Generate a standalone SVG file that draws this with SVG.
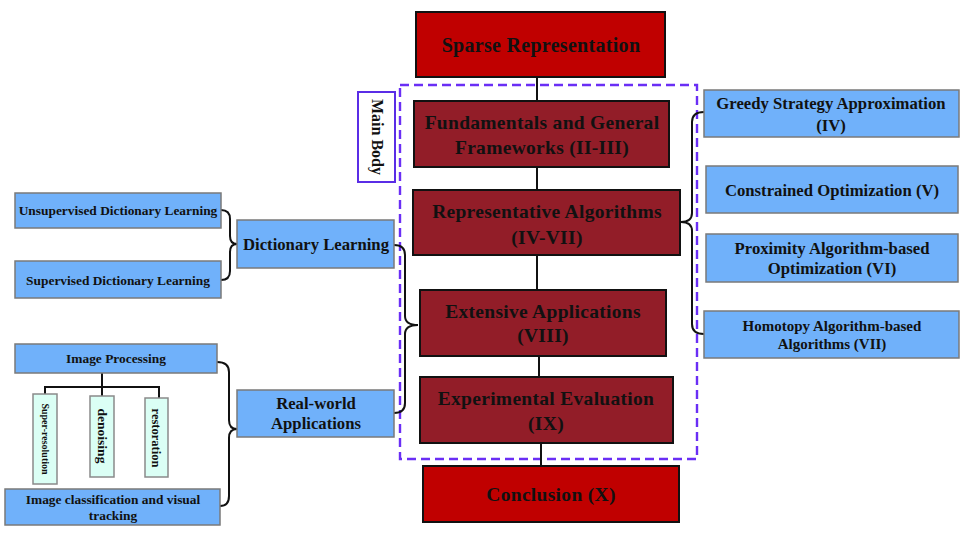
<svg xmlns="http://www.w3.org/2000/svg" width="968" height="536" viewBox="0 0 968 536">
<style>
text{font-family:"Liberation Serif","Times New Roman",serif;font-weight:bold;fill:#111;text-anchor:middle;dominant-baseline:central}
.red{fill:#C00000;stroke:#111;stroke-width:2}
.dark{fill:#921D28;stroke:#111;stroke-width:2}
.blue{fill:#70B1FA;stroke:#7A7A7A;stroke-width:1.5}
.cyan{fill:#DBFFF5;stroke:#8A8A8A;stroke-width:1.5}
.big{font-size:19.5px;letter-spacing:0.3px}
.mid{font-size:16.7px}
.sm{font-size:13.4px}
.ln{fill:none;stroke:#111;stroke-width:2}
</style>
<rect x="400" y="85" width="297" height="374" fill="none" stroke="#6A2EF5" stroke-width="2.4" stroke-dasharray="9,5"/>
<g id="connectors">
<path class="ln" d="M537,77V101M537,167V190M537,255V290M539,356V377M541,443V466"/>
<path class="ln" d="M704,112Q692,112 692,122L692,213Q692,222 681,222Q692,222 692,231L692,324Q692,334 704,334"/>
<path class="ln" d="M394,245Q405,245 405,255L405,316Q405,325 418,325Q405,325 405,334L405,403Q405,413 394,413"/>
<path class="ln" d="M221,210Q230,210 230,219L230,236Q230,244 237,244Q230,244 230,252L230,271Q230,280 221,280"/>
<path class="ln" d="M217,362Q229,362 229,372L229,420Q229,429 237,429Q229,429 229,438L229,496Q229,506 220,506"/>
<path class="ln" d="M102,373V387M45,394V387H159V398M102,387V396"/>
</g>
<g id="sparse"><rect class="red" x="416" y="12" width="249" height="65"/><text class="big" x="541" y="45" style="font-size:20px">Sparse Representation</text></g>
<g id="mainbody"><rect x="358" y="92" width="37" height="90" fill="#fff" stroke="#5A2DE6" stroke-width="2"/><text transform="translate(377,137) rotate(90)" style="font-size:16px">Main Body</text></g>
<g id="fundamentals"><rect class="dark" x="414" y="101" width="255" height="66"/><text class="big" x="542" y="122">Fundamentals and General</text><text class="big" x="542" y="147">Frameworks (II-III)</text></g>
<g id="representative"><rect class="dark" x="413" y="190" width="267" height="65"/><text class="big" x="547" y="211">Representative Algorithms</text><text class="big" x="547" y="237">(IV-VII)</text></g>
<g id="extensive"><rect class="dark" x="420" y="290" width="246" height="66"/><text class="big" x="543" y="311">Extensive Applications</text><text class="big" x="543" y="335">(VIII)</text></g>
<g id="experimental"><rect class="dark" x="420" y="377" width="253" height="66"/><text class="big" x="546" y="398">Experimental Evaluation</text><text class="big" x="546" y="423">(IX)</text></g>
<g id="conclusion"><rect class="red" x="423" y="466" width="256" height="56"/><text class="big" x="551" y="494">Conclusion (X)</text></g>
<g id="greedy"><rect class="blue" x="704" y="90" width="255" height="47"/><text class="mid" x="831" y="103">Greedy Strategy Approximation</text><text class="mid" x="831" y="125">(IV)</text></g>
<g id="constrained"><rect class="blue" x="706" y="166" width="252" height="47"/><text class="mid" x="832" y="190">Constrained Optimization (V)</text></g>
<g id="proximity"><rect class="blue" x="706" y="234" width="252" height="48"/><text class="mid" x="832" y="248">Proximity Algorithm-based</text><text class="mid" x="832" y="268">Optimization (VI)</text></g>
<g id="homotopy"><rect class="blue" x="704" y="311" width="255" height="47"/><text x="832" y="326" style="font-size:15px">Homotopy Algorithm-based</text><text x="832" y="344" style="font-size:15px">Algorithms (VII)</text></g>
<g id="unsupervised"><rect class="blue" x="15" y="193" width="206" height="35"/><text class="sm" x="118" y="210">Unsupervised Dictionary Learning</text></g>
<g id="supervised"><rect class="blue" x="15" y="261" width="206" height="37"/><text class="sm" x="118" y="280">Supervised Dictionary Learning</text></g>
<g id="dictionary"><rect class="blue" x="237" y="220" width="157" height="48"/><text class="mid" x="316" y="244">Dictionary Learning</text></g>
<g id="imageprocessing"><rect class="blue" x="15" y="344" width="202" height="29"/><text class="sm" x="116" y="358">Image Processing</text></g>
<g id="superres"><rect class="cyan" x="33" y="394" width="24" height="90"/><text transform="translate(45,439) rotate(90)" style="font-size:10px">Super-resolution</text></g>
<g id="denoising"><rect class="cyan" x="90" y="396" width="24" height="81"/><text transform="translate(102,436) rotate(90)" style="font-size:13.5px">denoising</text></g>
<g id="restoration"><rect class="cyan" x="145" y="398" width="23" height="79"/><text transform="translate(156,438) rotate(90)" style="font-size:12.5px">restoration</text></g>
<g id="classification"><rect class="blue" x="5" y="489" width="215" height="36"/><text class="sm" x="113" y="499">Image classification and visual</text><text class="sm" x="113" y="515">tracking</text></g>
<g id="realworld"><rect class="blue" x="237" y="390" width="157" height="47"/><text class="mid" x="316" y="403">Real-world</text><text class="mid" x="316" y="423">Applications</text></g>
</svg>
